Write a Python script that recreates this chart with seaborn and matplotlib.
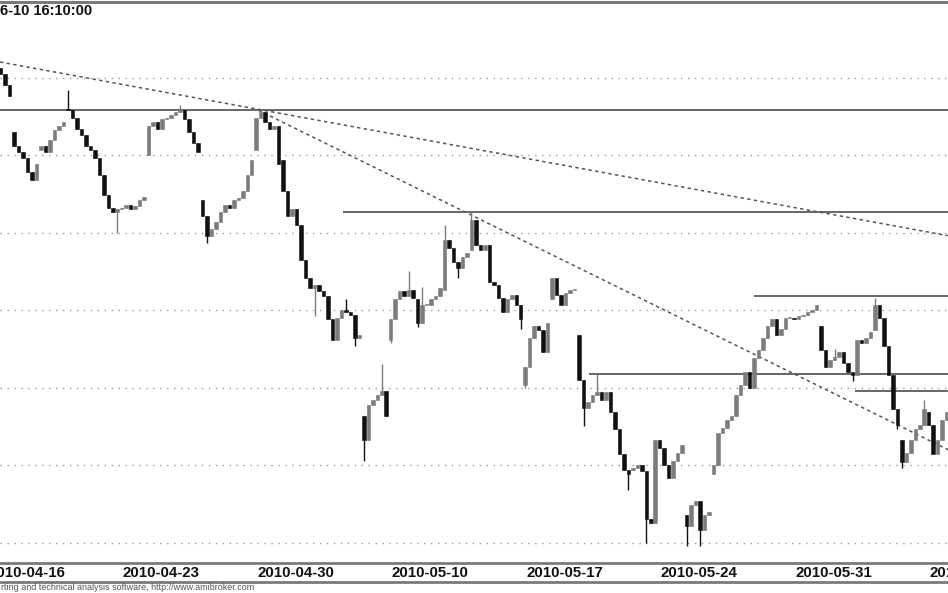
import numpy as np
import pandas as pd
import matplotlib.pyplot as plt
import seaborn as sns
from matplotlib.lines import Line2D

sns.set_style('white')
plt.rcParams['font.family'] = ['Liberation Sans', 'DejaVu Sans']

# week labels (first day of each 5-session block)
tick_days = [0, 5, 10, 15, 20, 25, 30, 35]
tick_labels = ['2010-04-16', '2010-04-23', '2010-04-30', '2010-05-10',
               '2010-05-17', '2010-05-24', '2010-05-31', '2010-06-07']

# intraday bars, 6 per session
day_open = [2613, 2565, 2553, 2580, 2553, 2515, 2550, 2576, 2521, 2518, 2553, 2547,
            2471, 2431, 2382, 2431, 2457, 2463, 2489, 2466, 2402, 2457, 2434, 2392,
            2347, 2366, 2318, 2344, 2395, 2432, 2445, 2440, 2416, 2437, 2366, 2384]
day_closes = [
    [2611, 2610, 2606, 2602, 2595, 2588],
    [2556, 2552, 2548, 2539, 2534, 2544],
    [2556, 2552, 2560, 2566, 2569, 2571],
    [2579, 2574, 2567, 2563, 2556, 2553],
    [2548, 2537, 2524, 2516, 2513, 2515],
    [2516, 2518, 2515, 2517, 2521, 2523],
    [2569, 2571, 2567, 2573, 2574, 2576],
    [2578, 2579, 2573, 2565, 2558, 2552],
    [2511, 2498, 2502, 2507, 2513, 2518],
    [2516, 2521, 2522, 2527, 2537, 2547],
    [2574, 2578, 2571, 2567, 2569, 2544],
    [2527, 2511, 2515, 2505, 2482, 2471],
    [2464, 2466, 2462, 2459, 2444, 2431],
    [2445, 2450, 2449, 2447, 2432, 2434],
    [2366, 2389, 2392, 2395, 2398, 2382],
    [2444, 2457, 2462, 2459, 2463, 2458],
    [2442, 2453, 2453, 2457, 2459, 2464],
    [2495, 2490, 2481, 2477, 2484, 2487],
    [2508, 2492, 2489, 2492, 2468, 2466],
    [2458, 2449, 2457, 2460, 2453, 2444],
    [2413, 2432, 2440, 2437, 2423, 2442],
    [2471, 2460, 2453, 2461, 2463, 2463],
    [2405, 2387, 2391, 2395, 2397, 2392],
    [2397, 2384, 2373, 2357, 2347, 2344],
    [2348, 2350, 2346, 2315, 2313, 2366],
    [2361, 2350, 2342, 2353, 2358, 2363],
    [2311, 2324, 2327, 2308, 2318, 2320],
    [2350, 2371, 2374, 2379, 2382, 2395],
    [2402, 2410, 2400, 2419, 2424, 2432],
    [2440, 2444, 2434, 2438, 2445, 2445],
    [2444, 2446, 2447, 2449, 2450, 2453],
    [2424, 2413, 2418, 2420, 2423, 2416],
    [2410, 2408, 2431, 2429, 2432, 2436],
    [2453, 2445, 2427, 2408, 2386, 2376],
    [2352, 2358, 2366, 2373, 2376, 2386],
    [2376, 2357, 2366, 2379, 2384, 2386],
]
# wick extremes that stick out of the bodies (bar number -> price)
wick_high = {18: 2592, 43: 2582, 61: 2580, 80: 2457, 88: 2415, 94: 2475, 97: 2465,
             102: 2505, 108: 2513, 136: 2409, 189: 2425, 198: 2458, 209: 2392}
wick_low = {29: 2500, 49: 2493, 73: 2446, 82: 2427, 84: 2353, 90: 2429, 96: 2439,
            105: 2471, 119: 2438, 120: 2400, 133: 2375, 143: 2334, 147: 2300,
            156: 2298, 159: 2298, 193: 2404, 203: 2373, 204: 2348}

# support / resistance levels and the bar where each one starts
levels = [2579, 2513, 2459, 2409, 2398]
level_start = [-5, 79.4, 171.0, 134.2, 193.6]
# trend lines: first one crosses the whole chart, second starts at the 04-30 peak
trend_a = ([2.85, 214.3], [2610, 2498])
trend_b = ([60.4, 214.3], [2579, 2360])

n_per_day = 6
rows = []
for d, closes in enumerate(day_closes):
    prev = day_open[d]
    for i, c in enumerate(closes):
        k = d * n_per_day + i
        rows.append(dict(bar=k, open=prev, close=c,
                         high=max(prev, c, wick_high.get(k, 0)),
                         low=min(prev, c, wick_low.get(k, 1e9))))
        prev = c
df = pd.DataFrame(rows)
df['up'] = df['close'] >= df['open']

fig = plt.figure(figsize=(9.48, 5.93), dpi=100)
ax = fig.add_axes([0, 30 / 593, 1, 561 / 593])

ax.set_yticks([2300, 2350, 2400, 2450, 2500, 2550, 2600])
ax.grid(axis='y', ls=(0, (1, 4)), color='#9a9a9a', lw=1)
ax.grid(axis='x', visible=False)
ax.tick_params(axis='y', left=False, labelleft=False)

col = np.where(df['up'], '#7c7c7c', '#111111')
ax.vlines(df['bar'], df['low'], df['high'], colors=col, lw=1.0, zorder=3)
body = (df['close'] - df['open']).abs().clip(lower=0.8)
ax.bar(df['bar'], body, bottom=df[['open', 'close']].min(axis=1), width=0.78,
       color=col, edgecolor=col, lw=0.4, zorder=3)

for lv, st in zip(levels, level_start):
    ax.hlines(lv, st, 230, color='#5a5a5a', lw=1.3, zorder=2)

# trend A runs across the whole chart
ax.axline((trend_a[0][0], trend_a[1][0]), (trend_a[0][1], trend_a[1][1]),
          color='#555555', lw=1.1, ls=(0, (2.2, 2.2)), zorder=2)
# trend B starts at the peak and runs off the right edge
slope_b = (trend_b[1][1] - trend_b[1][0]) / (trend_b[0][1] - trend_b[0][0])
xb = [trend_b[0][0], 230]
yb = [trend_b[1][0], trend_b[1][0] + slope_b * (230 - trend_b[0][0])]
sns.lineplot(x=xb, y=yb, ax=ax, color='#555555', lw=1.1, zorder=2,
             linestyle=(0, (2.2, 2.2)))

for s in ['left', 'right']:
    ax.spines[s].set_visible(False)
ax.spines['top'].set_color('#7a7a7a')
ax.spines['top'].set_linewidth(2.2)
ax.spines['bottom'].set_color('#7a7a7a')
ax.spines['bottom'].set_linewidth(2)

tick_pos = [d * n_per_day - 0.5 for d in tick_days]
ax.set_xticks(tick_pos)
ax.tick_params(axis='x', direction='out', length=6, width=1, color='#555555',
               labelbottom=False)
for tp, lab in zip(tick_pos, tick_labels):
    ax.text(tp + 0.7, -0.017, lab, transform=ax.get_xaxis_transform(),
            ha='left', va='center', fontsize=10.8, fontweight='bold',
            color='#111111', clip_on=False)

# limits last, set_xticks would widen them otherwise
ax.set_xlim(2.85, 214.3)
ax.set_ylim(2286.9, 2648.7)

fig.add_artist(Line2D([0, 1], [11 / 593, 11 / 593], transform=fig.transFigure,
                      color='#7a7a7a', lw=2))
fig.text(0.001, 5 / 593, 'rting and technical analysis software, http://www.amibroker.com',
         fontsize=6.5, color='#555555', va='center', ha='left')
fig.text(0.0, 1 - 11 / 593, '6-10 16:10:00', fontsize=10.5, fontweight='bold',
         color='#111111', va='center', ha='left')

fig.savefig('out.png', dpi=100)
